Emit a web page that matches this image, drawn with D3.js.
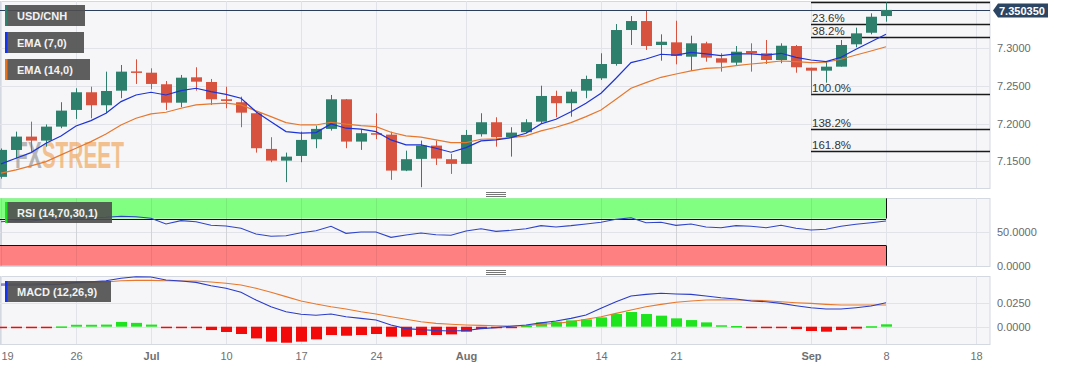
<!DOCTYPE html>
<meta charset="utf-8">

<!-- Load d3.js -->
<script src="https://d3js.org/d3.v7.min.js"></script>

<style>
  body { margin: 0; background: #fff; }
  svg text { font-family: "Liberation Sans", Arial, sans-serif; }
</style>

<div id="chart"></div>

<script>

// trading days on the axis, Jun 19 -> Sep 18
const days = ["06-19","06-20","06-21","06-22","06-23","06-26","06-27","06-28","06-29","06-30",
  "07-03","07-04","07-05","07-06","07-07","07-10","07-11","07-12","07-13","07-14",
  "07-17","07-18","07-19","07-20","07-21","07-24","07-25","07-26","07-27","07-28","07-31",
  "08-01","08-02","08-03","08-04","08-07","08-08","08-09","08-10","08-11",
  "08-14","08-15","08-16","08-17","08-18","08-21","08-22","08-23","08-24","08-25",
  "08-28","08-29","08-30","08-31","09-01","09-04","09-05","09-06","09-07","09-08",
  "09-11","09-12","09-13","09-14","09-15","09-18"];

const tickDays   = ["06-19","06-26","07-03","07-10","07-17","07-24","08-01","08-14","08-21","09-01","09-08","09-18"];
const tickLabels = ["19","26","Jul","10","17","24","Aug","14","21","Sep","8","18"];
const monthTicks = ["Jul","Aug","Sep"];

// USD/CNH daily candles
const open  = [7.1294,7.1650,7.1827,7.1774,7.1959,7.2180,7.2414,7.2242,7.2435,7.2690,
  7.2673,7.2520,7.2276,7.2612,7.2550,7.2321,7.2282,7.2136,7.1664,7.1509,
  7.1571,7.1792,7.1929,7.2321,7.1761,7.1872,7.1853,7.1377,7.1532,7.1708,
  7.1528,7.1466,7.1858,7.2017,7.1819,7.1885,7.2025,7.2365,7.2269,7.2435,
  7.2599,7.2788,7.3238,7.3357,7.3040,7.3075,7.2885,7.3062,7.2864,7.2806,
  7.2960,7.2930,7.2841,7.3026,7.2739,7.2700,7.2753,7.3049,7.3202,7.3423];
const high  = [7.1670,7.1893,7.2025,7.1988,7.2282,7.2467,7.2488,7.2687,7.2775,7.2850,
  7.2731,7.2563,7.2643,7.2745,7.2590,7.2488,7.2356,7.2157,7.1819,7.1615,
  7.1893,7.1972,7.2378,7.2325,7.1925,7.2136,7.1893,7.1641,7.1774,7.1774,
  7.1598,7.1915,7.2136,7.2083,7.1951,7.2057,7.2501,7.2435,7.2454,7.2634,
  7.2930,7.3317,7.3423,7.3490,7.3181,7.3361,7.3163,7.3083,7.2930,7.3026,
  7.3062,7.3106,7.3062,7.3040,7.2739,7.2819,7.3106,7.3269,7.3459,7.3604];
const low   = [7.1270,7.1541,7.1628,7.1694,7.1938,7.2061,7.2070,7.2136,7.2335,7.2524,
  7.2454,7.2180,7.2216,7.2435,7.2246,7.2202,7.1951,7.1615,7.1488,7.1224,
  7.1488,7.1673,7.1906,7.1673,7.1651,7.1792,7.1254,7.1370,7.1157,7.1452,
  7.1333,7.1466,7.1827,7.1694,7.1562,7.1872,7.2004,7.2083,7.2091,7.2335,
  7.2577,7.2766,7.3040,7.2974,7.2832,7.2784,7.2700,7.2819,7.2687,7.2775,
  7.2687,7.2788,7.2798,7.2673,7.2388,7.2541,7.2753,7.3009,7.3181,7.3348];
const close = [7.1651,7.1827,7.1774,7.1959,7.2171,7.2414,7.2242,7.2431,7.2687,7.2685,
  7.2524,7.2276,7.2607,7.2554,7.2321,7.2299,7.2144,7.1673,7.1509,7.1562,
  7.1783,7.1929,7.2321,7.1761,7.1872,7.1853,7.1377,7.1528,7.1708,7.1536,
  7.1466,7.1849,7.2017,7.1819,7.1880,7.2017,7.2365,7.2269,7.2422,7.2590,
  7.2788,7.3238,7.3357,7.3026,7.3083,7.2894,7.3062,7.2872,7.2806,7.2951,
  7.2930,7.2841,7.3030,7.2745,7.2700,7.2753,7.3040,7.3194,7.3414,7.3504];

const ema7  = [7.1466,7.1541,7.1615,7.1739,7.1836,7.1968,7.2038,7.2136,7.2290,7.2378,
  7.2414,7.2378,7.2435,7.2467,7.2422,7.2385,7.2335,7.2157,7.2025,7.1893,
  7.1872,7.1880,7.1995,7.1938,7.1925,7.1893,7.1783,7.1717,7.1717,7.1673,
  7.1620,7.1681,7.1770,7.1783,7.1813,7.1872,7.1995,7.2057,7.2157,7.2269,
  7.2401,7.2599,7.2806,7.2854,7.2917,7.2907,7.2943,7.2921,7.2898,7.2921,
  7.2921,7.2907,7.2930,7.2877,7.2841,7.2819,7.2877,7.2983,7.3083,7.3181];
const ema14 = [7.1343,7.1386,7.1439,7.1496,7.1585,7.1673,7.1761,7.1862,7.1981,7.2070,
  7.2127,7.2149,7.2202,7.2246,7.2259,7.2269,7.2246,7.2167,7.2091,7.2012,
  7.1981,7.1981,7.2017,7.1991,7.1972,7.1959,7.1885,7.1836,7.1819,7.1783,
  7.1747,7.1747,7.1792,7.1796,7.1813,7.1836,7.1902,7.1951,7.2012,7.2091,
  7.2180,7.2321,7.2467,7.2541,7.2612,7.2656,7.2696,7.2731,7.2739,7.2766,
  7.2788,7.2806,7.2828,7.2819,7.2806,7.2811,7.2851,7.2907,7.2960,7.3017];

const rsi = [65.3,66.8,66.3,68.8,70.3,71.2,70.8,71.8,73.3,72.7,
  70.3,61.9,66.8,65.3,59.9,58.9,55.5,47.0,43.6,44.5,
  49.0,51.9,58.5,48.0,50.0,50.0,42.1,45.5,48.5,46.0,
  45.1,51.5,54.9,51.0,52.5,54.9,59.4,57.4,59.4,61.9,
  64.4,68.8,71.2,63.8,64.4,59.9,61.9,57.4,56.4,59.4,
  58.5,56.4,59.9,55.5,53.0,54.0,58.5,61.4,63.8,66.3];

const macd = [0.0434,0.0434,0.0434,0.0438,0.0441,0.0462,0.0469,0.0479,0.0504,0.0521,
  0.0518,0.0486,0.0476,0.0462,0.0427,0.0400,0.0358,0.0278,0.0208,0.0156,
  0.0129,0.0119,0.0132,0.0104,0.0087,0.0070,0.0018,-0.0020,-0.0030,-0.0040,
  -0.0045,-0.0040,-0.0020,-0.0010,0.0005,0.0018,0.0040,0.0059,0.0087,0.0122,
  0.0191,0.0260,0.0320,0.0337,0.0348,0.0341,0.0337,0.0320,0.0302,0.0288,
  0.0268,0.0260,0.0243,0.0219,0.0198,0.0184,0.0184,0.0198,0.0215,0.0250];
const signal = [0.0448,0.0448,0.0448,0.0452,0.0459,0.0455,0.0460,0.0465,0.0479,0.0483,
  0.0483,0.0479,0.0476,0.0476,0.0465,0.0452,0.0434,0.0400,0.0358,0.0313,
  0.0268,0.0236,0.0208,0.0184,0.0156,0.0132,0.0104,0.0077,0.0052,0.0035,
  0.0025,0.0018,0.0014,0.0010,0.0007,0.0010,0.0025,0.0035,0.0052,0.0077,
  0.0104,0.0139,0.0174,0.0208,0.0233,0.0254,0.0268,0.0278,0.0281,0.0278,
  0.0275,0.0271,0.0260,0.0250,0.0243,0.0233,0.0226,0.0226,0.0226,0.0226];
const hist = [-0.0015,-0.0015,-0.0013,-0.0010,0.0003,0.0020,0.0020,0.0022,0.0050,0.0040,
  0.0022,-0.0003,-0.0005,-0.0010,-0.0035,-0.0055,-0.0076,-0.0122,-0.0156,-0.0167,
  -0.0156,-0.0132,-0.0087,-0.0094,-0.0087,-0.0076,-0.0104,-0.0104,-0.0087,-0.0087,
  -0.0080,-0.0052,-0.0024,-0.0015,-0.0008,0.0010,0.0045,0.0052,0.0066,0.0076,
  0.0097,0.0132,0.0153,0.0132,0.0115,0.0087,0.0069,0.0045,0.0015,0.0007,
  -0.0003,-0.0012,-0.0012,-0.0025,-0.0045,-0.0052,-0.0035,-0.0020,0.0005,0.0025];

// Fibonacci levels from the Sep 1 low to the Sep 8 high
const fibStart  = "09-01";
const fibValues = [7.3604,7.3317,7.3140,7.2388,7.1924,7.1637];
const fibLabels = ["","23.6%","38.2%","100.0%","138.2%","161.8%"];

const lastPrice = 7.350350;
const priceTicks = [7.15, 7.20, 7.25, 7.30];
const rsiTicks = [0, 50];
const macdTicks = [0, 0.025];

// layout
const W = 1067, H = 370, plotRight = 990;
const panels = {
  main: {top: 1,   bottom: 188},
  rsi:  {top: 198, bottom: 266},
  macd: {top: 276, bottom: 344}
};

const svg = d3.select("#chart")
  .append("svg")
    .attr("width", W)
    .attr("height", H)
    .style("background", "#fff");

const x = d3.scalePoint().domain(days).range([1, 976]);
const yMain = d3.scaleLinear().domain([7.15, 7.30]).range([161.3, 48]);
const yRsi  = d3.scaleLinear().domain([0, 100]).range([265.7, 198.3]);
const yMacd = d3.scaleLinear().domain([0, 0.025]).range([326.7, 302.7]);

const nData = close.length;
const bars = d3.range(nData).map(i => ({
  day: days[i], o: open[i], h: high[i], l: low[i], c: close[i]
}));

// panel frame + grid, returns clipped group
function makePanel(name, p, yScale, yTicks) {
  const defs = svg.append("defs");
  defs.append("clipPath").attr("id", "clip-" + name)
    .append("rect")
      .attr("x", 0).attr("y", p.top)
      .attr("width", plotRight).attr("height", p.bottom - p.top);

  svg.append("rect")
    .attr("x", 0.5).attr("y", p.top + 0.5)
    .attr("width", plotRight - 0.5).attr("height", p.bottom - p.top)
    .attr("fill", "#f6f6f8")
    .attr("stroke", "#d3d8e1");

  const g = svg.append("g").attr("clip-path", "url(#clip-" + name + ")");

  // vertical grid
  g.append("g").selectAll("line")
    .data(tickDays)
    .enter().append("line")
      .attr("x1", d => x(d) + 0.5).attr("x2", d => x(d) + 0.5)
      .attr("y1", p.top).attr("y2", p.bottom)
      .attr("stroke", "#e1e3e8");

  // horizontal grid
  g.append("g").selectAll("line")
    .data(yTicks)
    .enter().append("line")
      .attr("x1", 0).attr("x2", plotRight)
      .attr("y1", d => Math.round(yScale(d)) + 0.5).attr("y2", d => Math.round(yScale(d)) + 0.5)
      .attr("stroke", "#e1e3e8");

  return g;
}

function yLabels(yScale, ticks, fmt) {
  svg.append("g")
    .attr("transform", "translate(" + (plotRight + 7) + ",0)")
    .call(d3.axisRight(yScale).tickValues(ticks).tickSize(0).tickPadding(0).tickFormat(fmt))
    .call(a => a.select(".domain").remove())
    .selectAll("text")
      .attr("fill", "#6a6a6a")
      .attr("font-size", 11)
      .attr("text-anchor", "start");
}

function legend(tx, ty, w, label, color) {
  const g = svg.append("g").attr("transform", "translate(" + tx + "," + ty + ")");
  g.append("rect").attr("width", w).attr("height", 21)
    .attr("fill", "rgb(78,78,78)").attr("fill-opacity", 0.9);
  g.append("rect").attr("width", 2.5).attr("height", 21).attr("fill", color);
  g.append("text")
    .attr("x", 12).attr("y", 14.5)
    .attr("fill", "#f2f2f2")
    .attr("font-size", 11)
    .attr("font-weight", "bold")
    .text(label);
}

// ---------------- main panel ----------------
const gMain = makePanel("main", panels.main, yMain, priceTicks);

// watermark: one word, grey "FX" + orange "STREET" via a hard-stop gradient
const wmGrad = svg.append("defs").append("linearGradient")
  .attr("id", "wm-grad")
  .attr("gradientUnits", "userSpaceOnUse")
  .attr("x1", 15).attr("x2", 124).attr("y1", 0).attr("y2", 0);
wmGrad.append("stop").attr("offset", 0.245).attr("stop-color", "#8e8e8e");
wmGrad.append("stop").attr("offset", 0.245).attr("stop-color", "#f0a050");

gMain.append("text")
  .attr("x", 15).attr("y", 168)
  .attr("opacity", 0.62)
  .attr("fill", "url(#wm-grad)")
  .attr("font-family", "'Liberation Sans Narrow', 'DejaVu Sans Condensed', sans-serif")
  .attr("font-weight", "bold").attr("font-size", 36)
  .attr("textLength", 109).attr("lengthAdjust", "spacingAndGlyphs")
  .text("FXSTREET");

// last price line
gMain.append("line")
  .attr("x1", 0).attr("x2", plotRight)
  .attr("y1", Math.round(yMain(lastPrice)) + 0.5).attr("y2", Math.round(yMain(lastPrice)) + 0.5)
  .attr("stroke", "#2b3f5c").attr("stroke-width", 1);

// fibonacci lines
const fibG = gMain.append("g");
fibValues.forEach((v, i) => {
  const yy = Math.round(yMain(v)) + 0.5;
  fibG.append("line")
    .attr("x1", x(fibStart)).attr("x2", plotRight)
    .attr("y1", yy).attr("y2", yy)
    .attr("stroke", "#1a1a1a").attr("stroke-width", 1.4);
  if (fibLabels[i]) {
    fibG.append("text")
      .attr("x", x(fibStart) + 1).attr("y", yy - 3)
      .attr("font-size", 11.5).attr("fill", "#333")
      .text(fibLabels[i]);
  }
});

// candles
const candle = gMain.append("g").selectAll("g")
  .data(bars)
  .enter()
  .append("g");

candle.append("line")
  .attr("x1", d => x(d.day) + 0.5).attr("x2", d => x(d.day) + 0.5)
  .attr("y1", d => yMain(d.h)).attr("y2", d => yMain(d.l))
  .attr("stroke", d => d.c >= d.o ? "#2e7f6c" : "#d7533f");

candle.append("rect")
  .attr("x", d => x(d.day) - 5)
  .attr("width", 11)
  .attr("y", d => yMain(Math.max(d.o, d.c)))
  .attr("height", d => Math.max(1.5, Math.abs(yMain(d.o) - yMain(d.c))))
  .attr("fill", d => d.c >= d.o ? "#2e7f6c" : "#d7533f");

// EMAs
const emaLine = vals => d3.line()
  .x((v, i) => x(days[i]))
  .y(v => yMain(v))(vals);

gMain.append("path").attr("d", emaLine(ema14))
  .attr("fill", "none").attr("stroke", "#e6772c").attr("stroke-width", 1.2);
gMain.append("path").attr("d", emaLine(ema7))
  .attr("fill", "none").attr("stroke", "#1c33d6").attr("stroke-width", 1.2);

yLabels(yMain, priceTicks, d3.format(".4f"));

// price tag
const py = Math.round(yMain(lastPrice)) + 0.5;
svg.append("path")
  .attr("d", "M993," + py + " L998," + (py - 7) + " L1048," + (py - 7) + " L1048," + (py + 7) + " L998," + (py + 7) + " Z")
  .attr("fill", "#2b4563");
svg.append("text")
  .attr("x", 999).attr("y", py + 4)
  .attr("fill", "#fff").attr("font-size", 11).attr("font-weight", "bold")
  .text(lastPrice.toFixed(6));

legend(5, 5, 80, "USD/CNH", "#2e7f6c");
legend(5, 32, 79, "EMA (7,0)", "#1433ee");
legend(5, 59, 85, "EMA (14,0)", "#e8731e");

// ---------------- RSI panel ----------------
const gRsi = makePanel("rsi", panels.rsi, yRsi, rsiTicks);
const zoneEnd = x(days[nData - 1]);

gRsi.append("rect")
  .attr("x", 0).attr("width", zoneEnd)
  .attr("y", yRsi(100)).attr("height", yRsi(70) - yRsi(100))
  .attr("fill", "#80ff80");
gRsi.append("rect")
  .attr("x", 0).attr("width", zoneEnd)
  .attr("y", yRsi(30)).attr("height", yRsi(0) - yRsi(30))
  .attr("fill", "#ff8080");

// grid shows through zones
gRsi.append("g").selectAll("line")
  .data(tickDays.filter(d => x(d) < zoneEnd))
  .enter().append("line")
    .attr("x1", d => x(d) + 0.5).attr("x2", d => x(d) + 0.5)
    .attr("y1", panels.rsi.top).attr("y2", panels.rsi.bottom)
    .attr("stroke", "#000").attr("stroke-opacity", 0.07);

[70, 30].forEach(v => {
  gRsi.append("line")
    .attr("x1", 0).attr("x2", zoneEnd)
    .attr("y1", Math.round(yRsi(v)) + 0.5).attr("y2", Math.round(yRsi(v)) + 0.5)
    .attr("stroke", "#111");
});
gRsi.append("line")
  .attr("x1", zoneEnd + 0.5).attr("x2", zoneEnd + 0.5)
  .attr("y1", yRsi(100)).attr("y2", yRsi(70))
  .attr("stroke", "#111");
gRsi.append("line")
  .attr("x1", zoneEnd + 0.5).attr("x2", zoneEnd + 0.5)
  .attr("y1", yRsi(30)).attr("y2", yRsi(0))
  .attr("stroke", "#111");

gRsi.append("path")
  .attr("d", d3.line().x((v, i) => x(days[i])).y(v => yRsi(v))(rsi))
  .attr("fill", "none").attr("stroke", "#2f45c8").attr("stroke-width", 1.1);

yLabels(yRsi, rsiTicks, d3.format(".4f"));

legend(5, 202, 107, "RSI (14,70,30,1)", "#22dd22");

// ---------------- MACD panel ----------------
const gMacd = makePanel("macd", panels.macd, yMacd, macdTicks);

gMacd.append("g").selectAll("rect")
  .data(hist)
  .enter()
  .append("rect")
    .attr("x", (v, i) => x(days[i]) - 5)
    .attr("width", 11)
    .attr("y", v => v >= 0 ? yMacd(v) : yMacd(0))
    .attr("height", v => Math.max(1.5, Math.abs(yMacd(v) - yMacd(0))))
    .attr("fill", v => v >= 0 ? "#1ee41e" : "#f20a0a");

gMacd.append("path")
  .attr("d", d3.line().x((v, i) => x(days[i])).y(v => yMacd(v))(signal))
  .attr("fill", "none").attr("stroke", "#e8782c").attr("stroke-width", 1.1);
gMacd.append("path")
  .attr("d", d3.line().x((v, i) => x(days[i])).y(v => yMacd(v))(macd))
  .attr("fill", "none").attr("stroke", "#2a3cc8").attr("stroke-width", 1.1);

yLabels(yMacd, macdTicks, d3.format(".4f"));

legend(5, 281, 106, "MACD (12,26,9)", "#1433ee");

// panel resize handles
[192, 270].forEach(yy => {
  [0, 2, 4].forEach(k => {
    svg.append("line")
      .attr("x1", 486).attr("x2", 506)
      .attr("y1", yy + k + 0.5).attr("y2", yy + k + 0.5)
      .attr("stroke", "#777");
  });
});

// ---------------- date axis ----------------
svg.append("g")
  .attr("transform", "translate(0,350)")
  .call(d3.axisBottom(x).tickValues(tickDays).tickSize(0).tickPadding(0)
    .tickFormat(d => tickLabels[tickDays.indexOf(d)]))
  .call(a => a.select(".domain").remove())
  .selectAll("text")
    .attr("dy", "0.9em")
    .attr("x", function(d) { return x(d) < 7 ? 7 - x(d) : 0; })
    .attr("fill", "#707070")
    .attr("font-size", 11)
    .attr("font-weight", d => monthTicks.includes(tickLabels[tickDays.indexOf(d)]) ? "bold" : "normal");

</script>
